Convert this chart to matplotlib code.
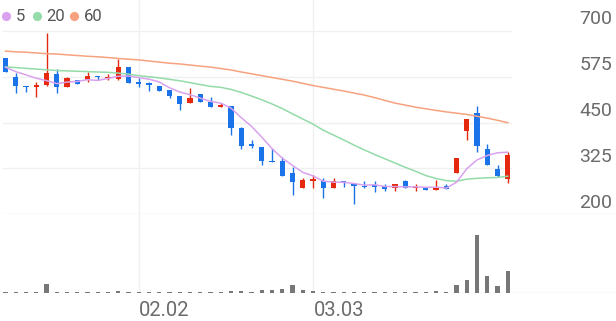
import numpy as np
import pandas as pd
import matplotlib
matplotlib.use("Agg")
import matplotlib.pyplot as plt
from matplotlib.lines import Line2D

plt.rcParams['font.family'] = ['Roboto', 'DejaVu Sans']

# ---------------- data ----------------
opens = [625, 573.5, 550.5, 548, 552, 582.5, 546, 565, 566, 577,
         571, 568, 602.5, 562, 557, 549, 538, 523, 503, 529,
         505, 491.5, 496, 436, 390, 384, 345.5, 345, 311, 270,
         291, 290, 272, 291, 283, 277, 279, 276.5, 270, 290,
         270, 274, 266.5, 277, 311, 427, 475, 377, 322, 295.5]
highs = [627, 586, 551, 560, 694, 595, 575, 567, 587, 577,
         582.5, 622.5, 603, 571, 561.5, 549, 538, 523, 543, 529,
         520.5, 502.5, 496, 437, 402, 384, 379.5, 356.5, 329, 297.5,
         306.5, 297.5, 297.5, 291, 283, 290, 290, 281, 282, 293,
         281, 275, 293, 283, 352, 459, 495, 390, 334, 370]
lows = [587, 530, 534, 520, 550, 530, 546, 554, 560, 566,
        566, 566, 557, 546, 537, 537, 518, 484, 503, 505,
        491.5, 491.5, 416, 377, 379.5, 334, 341, 304, 252, 270,
        270, 244.5, 272, 274.5, 227, 270, 261, 263.5, 263.5, 272,
        263, 266, 266, 268, 311, 402, 370, 334, 302, 284]
closes = [589, 550, 547, 552, 584, 548, 571, 556, 576, 573.5,
          575, 601, 559, 555, 552, 537, 521.5, 501.5, 518, 505,
          491.5, 498.5, 434, 386.5, 386.5, 345, 341, 304, 286.5, 293,
          295, 270, 291, 284, 276.5, 273, 274.5, 268.5, 282, 272,
          274.5, 266.5, 272, 268.5, 352, 459, 386.5, 334, 304.5, 361]
volumes = [10, 10, 8, 8, 93, 10, 8, 6, 8, 6,
           8, 20, 15, 8, 8, 6, 6, 10, 8, 8,
           8, 8, 20, 20, 10, 27, 30, 40, 83, 33,
           17, 10, 8, 8, 13, 8, 6, 6, 8, 8,
           8, 8, 17, 10, 83, 130, 576, 166, 66, 223]
# moving averages before enough in-window history exists
ma5_head = [601, 589, 580, 571]
ma20_head = [602, 600, 598, 596, 594, 592, 591, 590, 589, 588,
             587, 585, 582, 578, 575, 572, 568, 564, 559]
ma60 = [645, 643, 642, 640, 638, 637, 635, 633, 631, 629.5,
        627.5, 625, 623, 621, 618, 615, 612, 610, 607, 604,
        601.5, 597.5, 593.5, 588, 583, 578, 573, 568, 563, 557,
        551, 546, 541, 536, 530.5, 525, 518, 510.5, 503, 497.5,
        492, 487.5, 483, 479, 475.5, 472, 467, 462, 456, 449.5]
price_ticks = [700, 575, 450, 325, 200]
date_labels = ['02.02', '03.03']
date_index = [13, 30]
legend_labels = ['5', '20', '60']

# ---------------- styling ----------------
RED = '#e5290f'
BLUE = '#1a73e8'
C5, C20, C60 = '#d9a2ef', '#93dba8', '#f7a27f'
GRID = '#f0f0f0'
AXLINE = '#e6e6e6'
TXT = '#6b6b6b'

W, H = 616, 321
X0, DX = 5.5, 10.25              # pixel centre of first candle, spacing
PX_PER_UNIT = 183.0 / 500.0      # 700..200 spans 183 px

fig = plt.figure(figsize=(W / 100, H / 100), dpi=100)
fig.patch.set_facecolor('white')

def fx(px):
    return px / W

def fy(py):
    return 1 - py / H

xlim = (-X0 / DX, (W - X0) / DX)

ax = fig.add_axes([0, fy(214), 1, 214 / H])
vx = fig.add_axes([0, fy(293), 1, 79 / H])
for a in (ax, vx):
    a.set_xlim(*xlim)
    a.axis('off')
ax.set_ylim(200, 200 + 214 / PX_PER_UNIT)
vx.set_ylim(0, 790)

n = len(closes)
x = np.arange(n)
cl = pd.Series(closes, dtype=float)
ma5 = np.concatenate([ma5_head, cl.rolling(5).mean().values[len(ma5_head):]])
ma20 = np.concatenate([ma20_head, cl.rolling(20).mean().values[len(ma20_head):]])

# grid lines
for v in price_ticks:
    if v == 200:
        ax.axhline(v, xmin=fx(3), xmax=1, color=AXLINE, lw=1, zorder=1)
    else:
        ax.axhline(v, xmin=fx(3), xmax=fx(511), color=GRID, lw=1, zorder=1)
vx.axhline(0, xmin=fx(3), xmax=1, color=AXLINE, lw=1, zorder=1)
for i in date_index:
    ax.axvline(i, color=GRID, lw=1, zorder=1)
    vx.axvline(i, color=GRID, lw=1, zorder=1)

# candles
min_body = 1.2 / PX_PER_UNIT
for i in range(n):
    o, h, l, c = opens[i], highs[i], lows[i], closes[i]
    col = RED if c >= o else BLUE
    ax.vlines(i, l, h, color=col, lw=1.0, zorder=3)
    ax.bar(i, max(abs(c - o), min_body), bottom=min(o, c), width=0.5,
           color=col, edgecolor='none', zorder=3)

# moving averages
ax.plot(x, ma60, color=C60, lw=1.1, zorder=4)
ax.plot(x, ma20, color=C20, lw=1.1, zorder=4)
ax.plot(x, ma5, color=C5, lw=1.1, zorder=4)

# volume
vx.bar(x, volumes, width=0.4, color='#777777', edgecolor='none', zorder=3)

# right price labels (placed just above their grid lines)
for v in price_ticks:
    grid_py = 214 - (v - 200) * PX_PER_UNIT
    fig.text(fx(612), fy(grid_py - 6.5), str(v), ha='right', va='baseline',
             fontsize=14, color=TXT)

# date labels
for lab, i in zip(date_labels, date_index):
    fig.text(fx(X0 + DX * i + 0.5), fy(316), lab, ha='left', va='baseline',
             fontsize=14.5, color=TXT)

# legend
leg_dot_x = [5.7, 37.3, 74.0]
leg_txt_x = [15.5, 46.5, 84.0]
for lab, col, dxp, txp in zip(legend_labels, [C5, C20, C60], leg_dot_x, leg_txt_x):
    fig.add_artist(Line2D([fx(dxp)], [fy(15.7)], marker='o', markersize=6.6,
                          color=col, markeredgecolor='none',
                          transform=fig.transFigure))
    fig.text(fx(txp), fy(20.7), lab, ha='left', va='baseline', fontsize=12,
             color='#555555')

fig.savefig('out.png', dpi=100, facecolor='white')
